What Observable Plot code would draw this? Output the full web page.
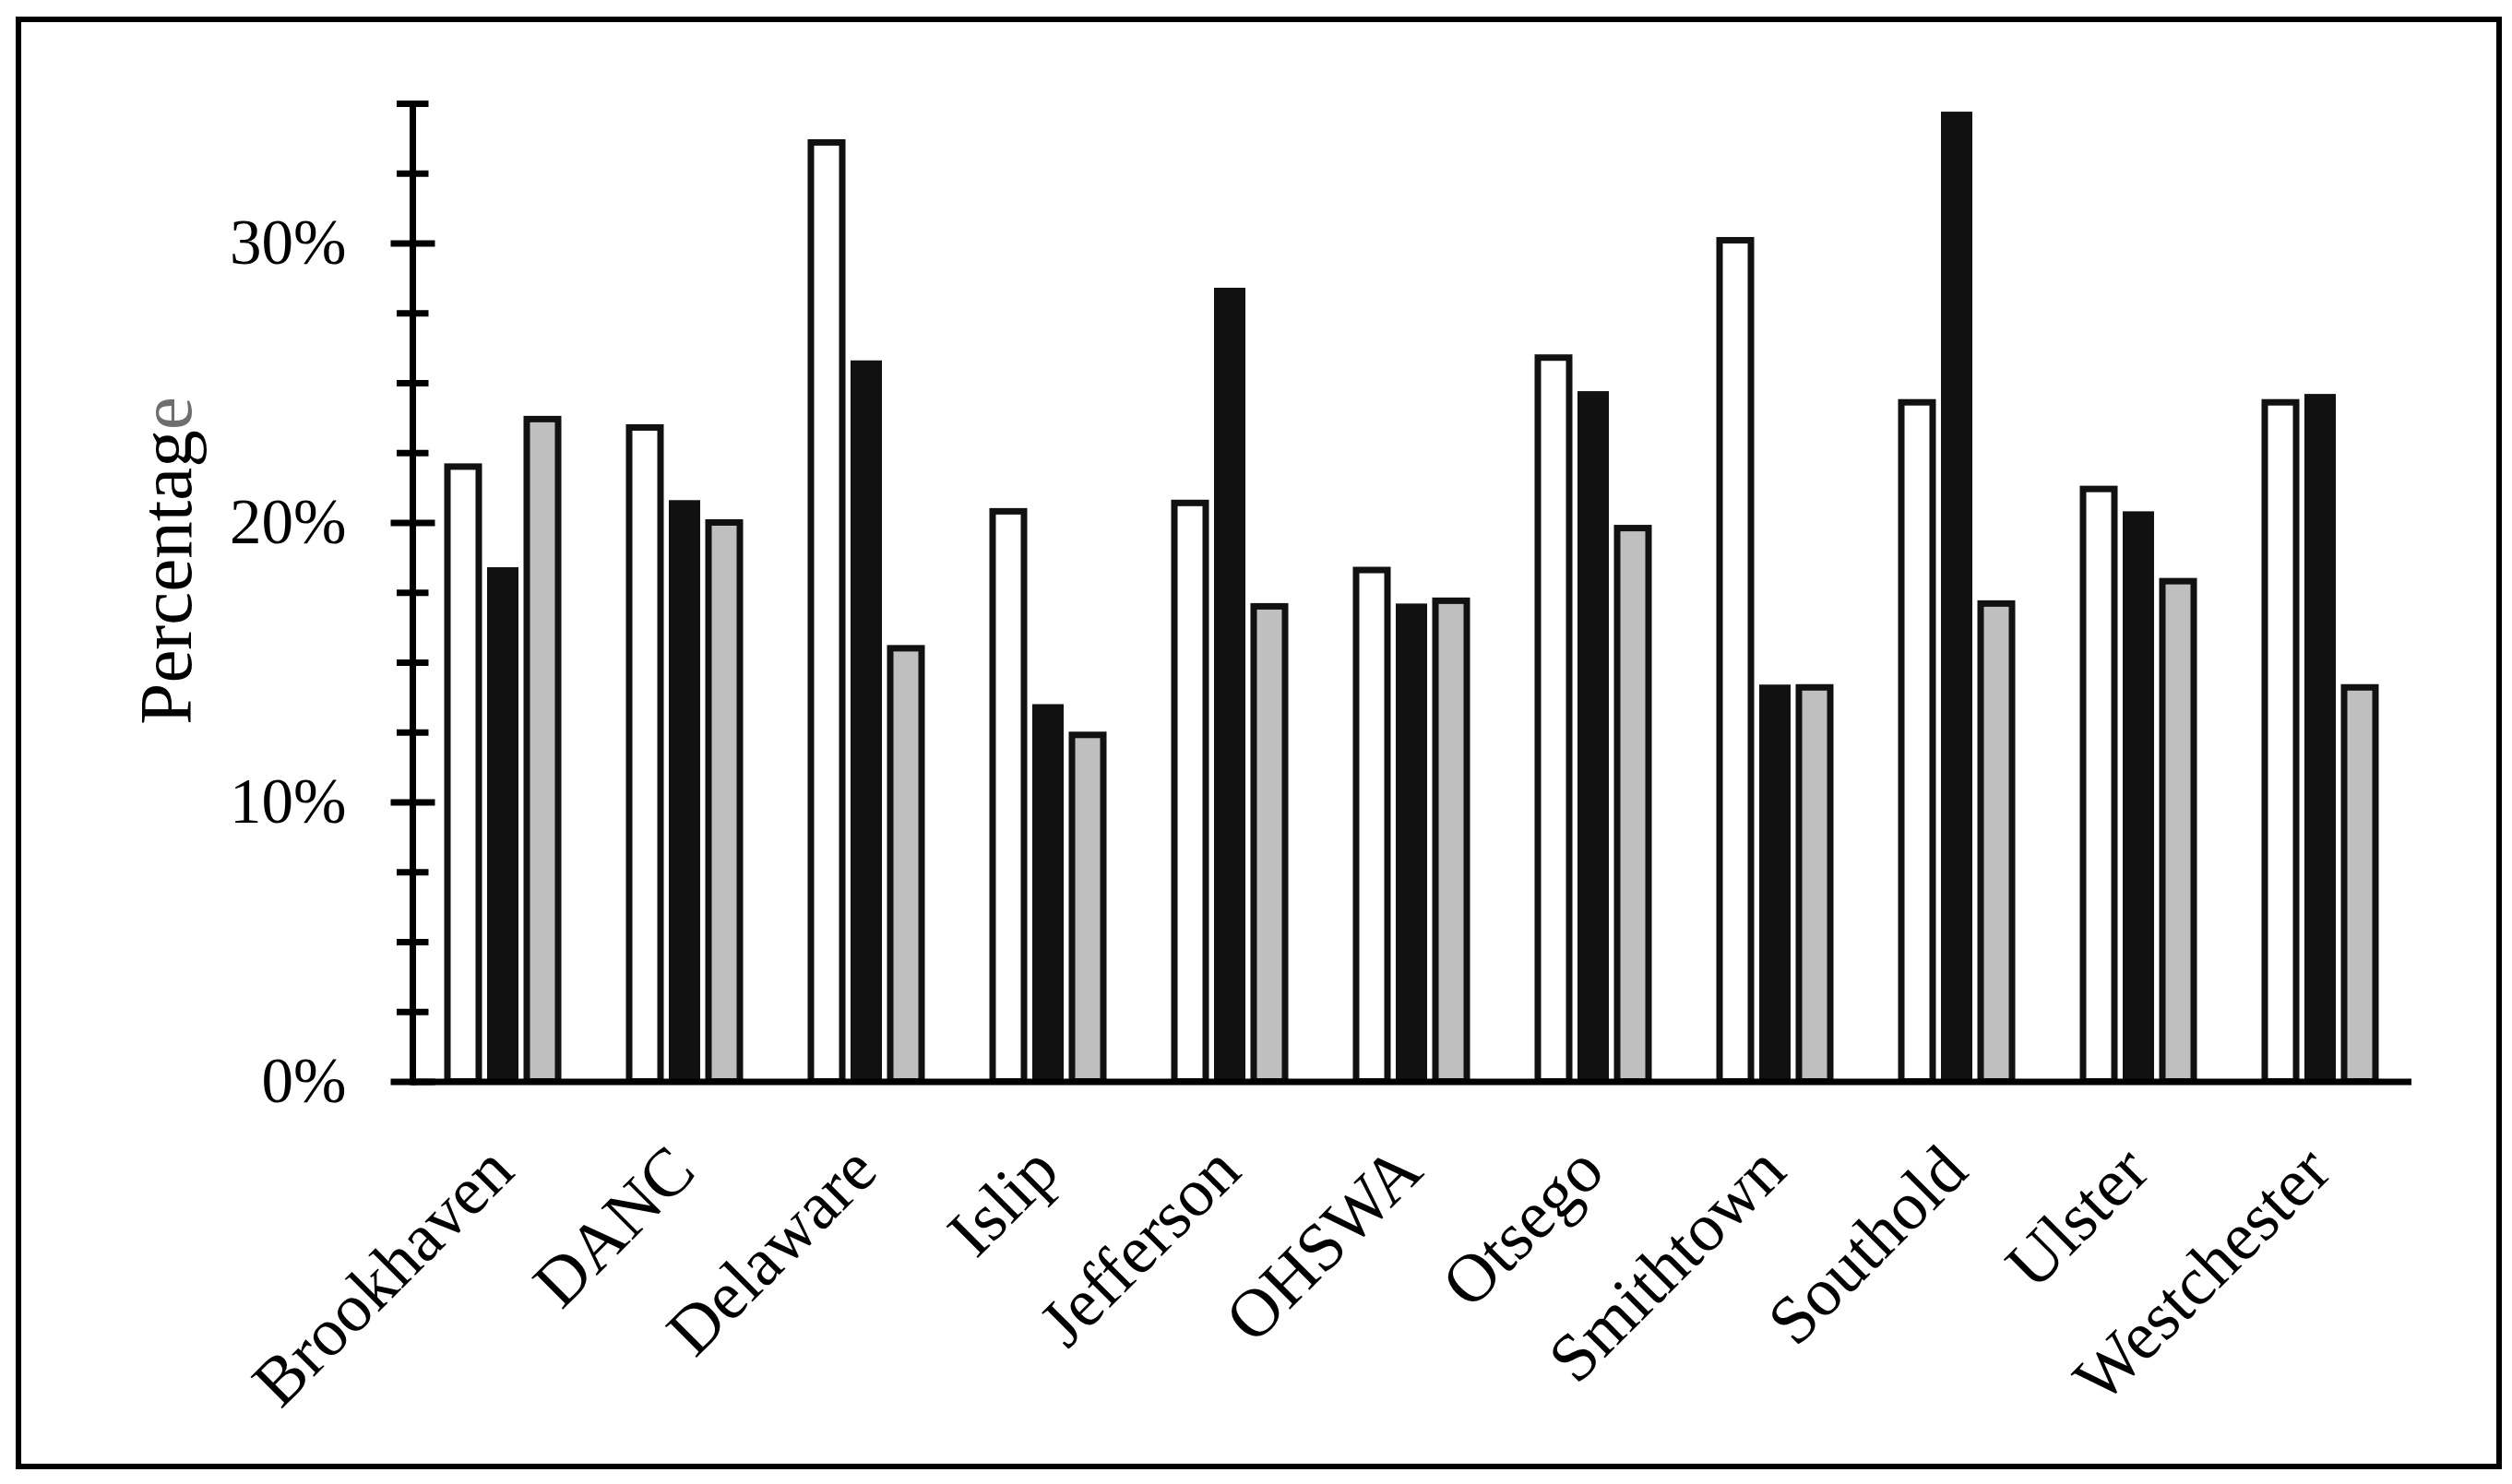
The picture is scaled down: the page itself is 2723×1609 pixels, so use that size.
<!DOCTYPE html>
<html><head><meta charset="utf-8">
<script src="https://cdn.jsdelivr.net/npm/d3@7"></script>
<script src="https://cdn.jsdelivr.net/npm/@observablehq/plot@0.6"></script>
<style>
html,body{margin:0;padding:0;background:#fff;}
#wrap{position:relative;width:2723px;height:1609px;overflow:hidden;background:#fff;}
#chart{position:absolute;left:0;top:0;}
#border{position:absolute;left:17px;top:18px;width:2695px;height:1575px;box-sizing:border-box;border:6.5px solid #000;pointer-events:none;}
</style></head><body>
<div id="wrap"><div id="chart"></div><div id="border"></div></div>
<script>
// ---- data ----
const sites = ["Brookhaven","DANC","Delaware","Islip","Jefferson","OHSWA","Otsego","Smithtown","Southold","Ulster","Westchester"];
const seriesNames = ["Series 1","Series 2","Series 3"];
const series1 = [22.0, 23.4, 33.6, 20.4, 20.7, 18.3, 25.9, 30.1, 24.3, 21.2, 24.3];
const series2 = [18.4, 20.8, 25.8, 13.5, 28.4, 17.1, 24.7, 14.2, 34.7, 20.4, 24.6];
const series3 = [23.7, 20.0, 15.5, 12.4, 17.0, 17.2, 19.8, 14.1, 17.1, 17.9, 14.1];
const majorTicks = [0, 10, 20, 30];
const tickLabels = ["0%", "10%", "20%", "30%"];
const minorTicks = [2.5, 5, 7.5, 12.5, 15, 17.5, 22.5, 25, 27.5, 32.5, 35];
const yLabel = "Percentage";

const allSeries = [series1, series2, series3];
const data = sites.flatMap((s, i) => seriesNames.map((n, j) => ({site: s, series: n, value: allSeries[j][i]})));
const bySeries = n => data.filter(d => d.series === n);

const font = "'Liberation Serif', 'Times New Roman', serif";
const ink = "#111";

const chart = Plot.plot({
  width: 2723,
  height: 1609,
  marginLeft: 442,
  marginRight: 105,
  marginTop: 112,
  marginBottom: 436.5,
  style: {fontFamily: font, fontSize: "66px", color: ink, background: "transparent", overflow: "visible"},
  fx: {domain: sites, padding: 0, axis: null, label: null},
  x: {domain: seriesNames, paddingInner: 0.2045, paddingOuter: 0.85, axis: null, label: null},
  y: {domain: [0, 35], axis: null, label: null},
  marks: [
    Plot.barY(bySeries(seriesNames[0]), {fx: "site", x: "series", y: "value", fill: "#ffffff", stroke: ink, strokeWidth: 7}),
    Plot.barY(bySeries(seriesNames[1]), {fx: "site", x: "series", y: "value", fill: ink}),
    Plot.barY(bySeries(seriesNames[2]), {fx: "site", x: "series", y: "value", fill: "#bfbfbf", stroke: ink, strokeWidth: 7}),
    Plot.ruleY([0], {stroke: "#000", strokeWidth: 7}),
    Plot.frame({anchor: "left", facetAnchor: "left", stroke: "#000", strokeWidth: 7}),
    // major ticks (outer half + labels)
    Plot.axisY(majorTicks, {tickSize: 23.5, tickPadding: 48.5, tickFormat: d => tickLabels[majorTicks.indexOf(d)],
      fontSize: 69, fontFamily: font, stroke: "#000", fill: "#000", strokeWidth: 7, label: null}),
    // major ticks (inner half)
    Plot.axisY(majorTicks, {tickSize: 24.5, dx: 24.5, fill: "none", stroke: "#000", strokeWidth: 7, label: null}),
    // minor ticks
    Plot.axisY(minorTicks, {tickSize: 17, fill: "none", stroke: "#000", strokeWidth: 7, label: null}),
    Plot.axisY(minorTicks, {tickSize: 17.5, dx: 17.5, fill: "none", stroke: "#000", strokeWidth: 7, label: null}),
    // category labels
    Plot.text(sites, {fx: d => d, text: d => d, frameAnchor: "bottom", dx: 14, dy: 100, rotate: -45, textAnchor: "end",
      fontSize: 74, fontFamily: font, fill: "#000"}),
    // y label
    Plot.text([yLabel], {fx: () => sites[0], text: d => d, frameAnchor: "left", dx: -266, dy: -34.75, rotate: -90,
      textAnchor: "middle", fontSize: 81, fontFamily: font, fill: "#000"})
  ]
});
document.getElementById("chart").appendChild(chart);

// the last letter of the axis title is rendered in gray in the original
for (const t of chart.querySelectorAll("text")) {
  if (t.textContent === yLabel) {
    t.textContent = yLabel.slice(0, -1);
    const ts = document.createElementNS("http://www.w3.org/2000/svg", "tspan");
    ts.setAttribute("fill", "#6e6e6e");
    ts.textContent = yLabel.slice(-1);
    t.appendChild(ts);
  }
}
</script>
</body></html>
